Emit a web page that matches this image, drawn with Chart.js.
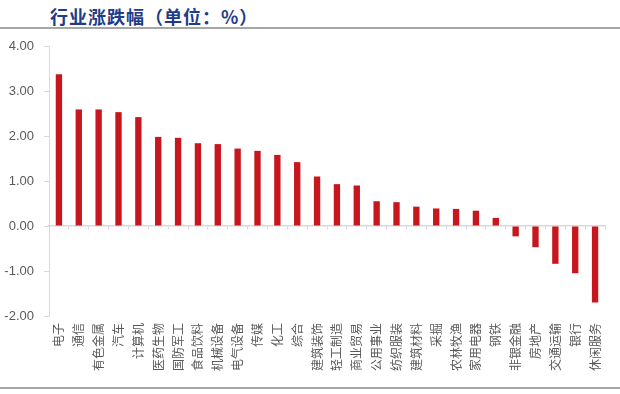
<!DOCTYPE html>
<html>
<head>
<meta charset="utf-8">
<script src="https://cdn.jsdelivr.net/npm/chart.js@4/dist/chart.umd.min.js"></script>
<style>
  body { margin: 0; background: #fff; }
  #wrap { position: relative; width: 620px; height: 394px; overflow: hidden; }
  #title { position: absolute; left: 50px; top: 7px; font: bold 18px "Noto Sans CJK SC", sans-serif; line-height: 18px; letter-spacing: 1px; color: #1F3C88; }
  .rule { position: absolute; left: 0; width: 620px; height: 2px; background: #A6A6A6; }
  canvas { position: absolute; left: 0; top: 0; }
</style>
</head>
<body>
<div id="wrap">
  <div id="title">行业涨跌幅（单位：%）</div>
  <div class="rule" style="top:27px"></div>
  <div class="rule" style="top:387px"></div>
  <canvas id="myChart1" width="620" height="394"></canvas>
</div>
<script>
const industries = ['电子', '通信', '有色金属', '汽车', '计算机', '医药生物', '国防军工', '食品饮料', '机械设备', '电气设备',
    '传媒', '化工', '综合', '建筑装饰', '轻工制造', '商业贸易', '公用事业', '纺织服装', '建筑材料', '采掘',
    '农林牧渔', '家用电器', '钢铁', '非银金融', '房地产', '交通运输', '银行', '休闲服务'];
const changes = [3.37, 2.59, 2.59, 2.53, 2.42, 1.98, 1.96, 1.84, 1.82, 1.72,
    1.67, 1.58, 1.42, 1.10, 0.93, 0.90, 0.55, 0.53, 0.43, 0.39,
    0.38, 0.34, 0.18, -0.23, -0.47, -0.84, -1.05, -1.70];
const yTicks = [-2, -1, 0, 1, 2, 3, 4];

const grey = '#D9D9D9';
const txt = '#595959';

new Chart(document.getElementById('myChart1'), {
    type: 'bar',
    data: {
        labels: industries,
        datasets: [{
            data: changes,
            backgroundColor: '#C8161E',
            categoryPercentage: 1,
            barPercentage: 0.32
        }]
    },
    options: {
        responsive: false,
        animation: false,
        layout: { padding: { left: 0, right: 15, top: 46, bottom: 8 } },
        plugins: {
            legend: { display: false },
            tooltip: { enabled: false }
        },
        scales: {
            x: {
                grid: { display: false, drawTicks: false },
                border: { display: false },
                ticks: {
                    autoSkip: false,
                    maxRotation: 90,
                    minRotation: 90,
                    padding: 7,
                    color: txt,
                    font: { family: '"Noto Sans CJK SC", sans-serif', size: 12 }
                },
                afterFit: (s) => { s.height = 70; }
            },
            // zero line with small tick marks between categories
            x2: {
                type: 'category',
                position: { y: 0 },
                grid: { offset: true, drawOnChartArea: false, drawTicks: true, tickLength: 3, color: grey, lineWidth: 1 },
                border: { display: true, color: grey, width: 1.5 },
                ticks: { display: false }
            },
            y: {
                min: yTicks[0],
                max: yTicks[yTicks.length - 1],
                afterBuildTicks: (s) => { s.ticks = yTicks.map(v => ({ value: v })); },
                grid: { drawOnChartArea: false, drawTicks: true, tickLength: 5, color: grey },
                border: { display: true, color: grey },
                ticks: {
                    padding: 10,
                    color: txt,
                    font: { family: '"Liberation Sans", sans-serif', size: 13 },
                    callback: (v) => Number(v).toFixed(2)
                },
                afterFit: (s) => { s.width = 49; }
            }
        }
    }
});
</script>
</body>
</html>
